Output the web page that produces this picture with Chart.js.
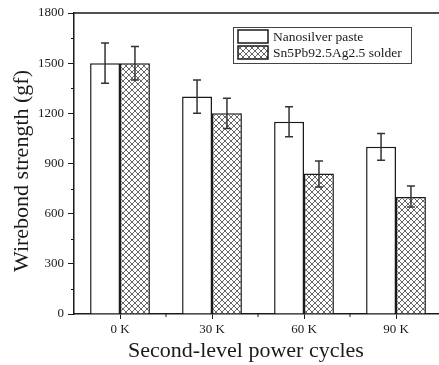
<!DOCTYPE html>
<html>
<head>
<meta charset="utf-8">
<script src="https://cdn.jsdelivr.net/npm/chart.js@4.4.1/dist/chart.umd.min.js"></script>
<style>
  html, body { margin: 0; padding: 0; background: #fff; overflow: hidden; }
  #wrap { width: 445px; height: 365px; }
</style>
</head>
<body>
<div id="wrap"><canvas id="chart" width="445" height="365"></canvas></div>
<script>
// data
const cycles = ['0 K', '30 K', '60 K', '90 K'];
const seriesNames = ['Nanosilver paste', 'Sn5Pb92.5Ag2.5 solder'];
const nanoMean = [1500, 1300, 1150, 1000];
const nanoLow  = [1380, 1200, 1060, 920];
const nanoHigh = [1620, 1400, 1240, 1080];
const solderMean = [1500, 1200, 840, 700];
const solderLow  = [1400, 1110, 760, 640];
const solderHigh = [1600, 1290, 915, 765];
const yTicks = [0, 300, 600, 900, 1200, 1500, 1800];
const yTitle = 'Wirebond strength (gf)';
const xTitle = 'Second-level power cycles';

const SERIF = '"Liberation Serif", "Times New Roman", serif';
const INK = '#1a1a1a';

// cross-hatch fill for the solder bars
function makeHatch() {
  const c = document.createElement('canvas');
  c.width = 6; c.height = 6;
  const g = c.getContext('2d');
  g.fillStyle = '#fff';
  g.fillRect(0, 0, 6, 6);
  g.strokeStyle = '#555';
  g.lineWidth = 0.9;
  g.beginPath();
  g.moveTo(0, 0); g.lineTo(6, 6);
  g.moveTo(6, 0); g.lineTo(0, 6);
  g.stroke();
  return g.createPattern(c, 'repeat');
}
const hatch = makeHatch();

const errorBars = {
  id: 'errorBars',
  afterDatasetsDraw(chart) {
    const ctx = chart.ctx, y = chart.scales.y;
    const ranges = [[nanoLow, nanoHigh], [solderLow, solderHigh]];
    ctx.save();
    ctx.strokeStyle = '#333';
    ctx.lineWidth = 1.5;
    chart.data.datasets.forEach((ds, di) => {
      chart.getDatasetMeta(di).data.forEach((bar, i) => {
        const x = bar.x;
        const top = y.getPixelForValue(ranges[di][1][i]);
        const bot = y.getPixelForValue(ranges[di][0][i]);
        ctx.beginPath();
        ctx.moveTo(x, top); ctx.lineTo(x, bot);
        ctx.moveTo(x - 4, top); ctx.lineTo(x + 4, top);
        ctx.moveTo(x - 4, bot); ctx.lineTo(x + 4, bot);
        ctx.stroke();
      });
    });
    ctx.restore();
  }
};

// frame, minor ticks, axis titles and the boxed legend
const frame = {
  id: 'frame',
  afterDraw(chart) {
    const ctx = chart.ctx, a = chart.chartArea;
    const x = chart.scales.x, y = chart.scales.y;
    ctx.save();
    ctx.strokeStyle = INK;
    ctx.lineWidth = 1.5;
    ctx.beginPath();
    ctx.moveTo(a.left, a.top); ctx.lineTo(a.right, a.top); ctx.lineTo(a.right, a.bottom);
    ctx.stroke();

    ctx.lineWidth = 1;
    ctx.beginPath();
    for (let v = 150; v < 1800; v += 300) {
      const py = Math.round(y.getPixelForValue(v)) + 0.5;
      ctx.moveTo(a.left - 3, py); ctx.lineTo(a.left, py);
    }
    for (let i = 1; i < cycles.length; i++) {
      const px = (x.getPixelForValue(i - 1) + x.getPixelForValue(i)) / 2;
      ctx.moveTo(px, a.bottom); ctx.lineTo(px, a.bottom + 3);
    }
    ctx.stroke();

    ctx.fillStyle = INK;
    ctx.textAlign = 'center';
    ctx.textBaseline = 'middle';

    // x title, a bit left of the axis middle
    ctx.font = '22px ' + SERIF;
    ctx.fillText(xTitle, 246, 351);

    // rotated y title, a little below the axis middle
    ctx.save();
    ctx.translate(22, 171);
    ctx.rotate(-Math.PI / 2);
    ctx.font = '22px ' + SERIF;
    ctx.fillText(yTitle, 0, 0);
    ctx.restore();

    // legend
    const lx = 233, ly = 27, lw = 178, lh = 36;
    ctx.lineWidth = 1;
    ctx.strokeStyle = '#444';
    ctx.strokeRect(lx + 0.5, ly + 0.5, lw, lh);
    ctx.font = '13.5px ' + SERIF;
    ctx.textAlign = 'left';
    chart.data.datasets.forEach((ds, i) => {
      const sy = ly + 3 + i * 16;
      ctx.fillStyle = ds.backgroundColor;
      ctx.fillRect(238, sy, 30, 13);
      ctx.lineWidth = 1.5;
      ctx.strokeStyle = INK;
      ctx.strokeRect(238, sy, 30, 13);
      ctx.fillStyle = INK;
      ctx.fillText(ds.label, 273, sy + 7);
    });
    ctx.restore();
  }
};

new Chart(document.getElementById('chart'), {
  type: 'bar',
  data: {
    labels: cycles,
    datasets: [
      { label: seriesNames[0], data: nanoMean, backgroundColor: '#fff',
        borderColor: INK, borderWidth: 1.5 },
      { label: seriesNames[1], data: solderMean, backgroundColor: hatch,
        borderColor: INK, borderWidth: 1.5 }
    ]
  },
  options: {
    responsive: false,
    animation: false,
    layout: { padding: { top: 13, right: 3, left: 0, bottom: 0 } },
    datasets: { bar: { categoryPercentage: 0.65, barPercentage: 1 } },
    plugins: { legend: { display: false }, tooltip: { enabled: false } },
    scales: {
      x: {
        offset: true,
        afterFit(s) { s.height = 51; },
        border: { display: true, color: INK, width: 1.5 },
        grid: { offset: false, drawOnChartArea: false, drawTicks: true, tickLength: 5, color: INK },
        ticks: { color: INK, font: { family: SERIF, size: 13 }, padding: 3 }
      },
      y: {
        min: 0, max: 1800,
        afterBuildTicks(s) { s.ticks = yTicks.map(v => ({ value: v })); },
        afterFit(s) { s.width = 74; },
        border: { display: true, color: INK, width: 1.5 },
        grid: { drawOnChartArea: false, drawTicks: true, tickLength: 6, color: INK },
        ticks: { color: INK, font: { family: SERIF, size: 13 }, padding: 4,
                 callback: v => String(v) }
      }
    }
  },
  plugins: [errorBars, frame]
});
</script>
</body>
</html>
